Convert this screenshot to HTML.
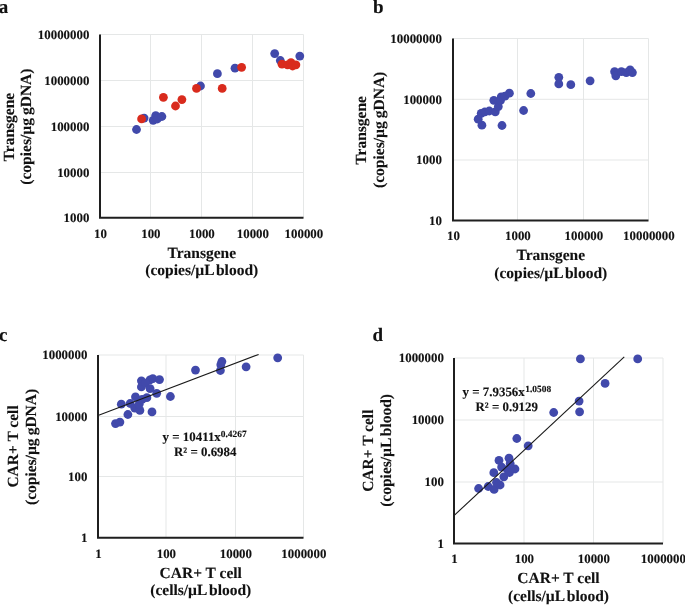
<!DOCTYPE html>
<html><head><meta charset="utf-8"><style>
html,body{margin:0;padding:0;background:#fff;width:685px;height:605px;overflow:hidden}
svg{display:block;will-change:transform;filter:blur(0.4px)}
text{font-family:"Liberation Serif", serif;font-weight:bold;fill:#111;text-rendering:geometricPrecision;stroke:#111;stroke-width:0.12px}
</style></head><body>
<svg width="685" height="605" viewBox="0 0 685 605">
<text x="-1.3" y="12.9" font-size="19" text-anchor="start" >a</text>
<line x1="150.5" y1="34.5" x2="150.5" y2="217.75" stroke="#e5e7e7" stroke-width="1"/>
<line x1="201.5" y1="34.5" x2="201.5" y2="217.75" stroke="#e5e7e7" stroke-width="1"/>
<line x1="252.5" y1="34.5" x2="252.5" y2="217.75" stroke="#e5e7e7" stroke-width="1"/>
<line x1="303.5" y1="34.5" x2="303.5" y2="217.75" stroke="#e5e7e7" stroke-width="1"/>
<line x1="100" y1="172.5" x2="303.5" y2="172.5" stroke="#e5e7e7" stroke-width="1"/>
<line x1="100" y1="126.5" x2="303.5" y2="126.5" stroke="#e5e7e7" stroke-width="1"/>
<line x1="100" y1="80.5" x2="303.5" y2="80.5" stroke="#e5e7e7" stroke-width="1"/>
<line x1="100" y1="34.5" x2="303.5" y2="34.5" stroke="#e5e7e7" stroke-width="1"/>
<text x="100.4" y="237.7" font-size="12.9" text-anchor="middle" >10</text>
<text x="150.9" y="237.7" font-size="12.9" text-anchor="middle" >100</text>
<text x="201.9" y="237.7" font-size="12.9" text-anchor="middle" >1000</text>
<text x="252.9" y="237.7" font-size="12.9" text-anchor="middle" >10000</text>
<text x="303.9" y="237.7" font-size="12.9" text-anchor="middle" >100000</text>
<text x="89.4" y="222.0102" font-size="12.9" text-anchor="end" >1000</text>
<text x="89.4" y="176.7602" font-size="12.9" text-anchor="end" >10000</text>
<text x="89.4" y="130.7602" font-size="12.9" text-anchor="end" >100000</text>
<text x="89.4" y="84.76020000000001" font-size="12.9" text-anchor="end" >1000000</text>
<text x="89.4" y="38.7602" font-size="12.9" text-anchor="end" >10000000</text>
<text x="201.75" y="257.7" font-size="15.5" text-anchor="middle" >Transgene</text>
<text x="201.75" y="275.2" font-size="15.5" text-anchor="middle" >(copies/µL<tspan dx="-1.6"> blood)</tspan></text>
<text x="0" y="0" font-size="15.5" text-anchor="middle" transform="translate(13.6,127.125) rotate(-90)">Transgene</text>
<text x="0" y="0" font-size="15.5" text-anchor="middle" transform="translate(30.6,126.625) rotate(-90)">(copies/µg<tspan dx="-0.8"> gDNA)</tspan></text>
<circle cx="136.5" cy="129.5" r="4.4" fill="#4149ab"/>
<circle cx="144.1" cy="118.1" r="4.4" fill="#4149ab"/>
<circle cx="153.2" cy="120.3" r="4.4" fill="#4149ab"/>
<circle cx="155.7" cy="115.6" r="4.4" fill="#4149ab"/>
<circle cx="157.3" cy="119" r="4.4" fill="#4149ab"/>
<circle cx="161.9" cy="116.5" r="4.4" fill="#4149ab"/>
<circle cx="200.5" cy="86" r="4.4" fill="#4149ab"/>
<circle cx="217.4" cy="73.7" r="4.4" fill="#4149ab"/>
<circle cx="235" cy="68.2" r="4.4" fill="#4149ab"/>
<circle cx="274.7" cy="53.6" r="4.4" fill="#4149ab"/>
<circle cx="280.3" cy="60.5" r="4.4" fill="#4149ab"/>
<circle cx="299.8" cy="56.1" r="4.4" fill="#4149ab"/>
<circle cx="141.6" cy="118.9" r="4.4" fill="#d92b1d"/>
<circle cx="163.4" cy="97.3" r="4.4" fill="#d92b1d"/>
<circle cx="175.5" cy="106" r="4.4" fill="#d92b1d"/>
<circle cx="181.9" cy="99.6" r="4.4" fill="#d92b1d"/>
<circle cx="196.5" cy="88.4" r="4.4" fill="#d92b1d"/>
<circle cx="222.2" cy="88.4" r="4.4" fill="#d92b1d"/>
<circle cx="241.6" cy="67.3" r="4.4" fill="#d92b1d"/>
<circle cx="282" cy="64.2" r="4.4" fill="#d92b1d"/>
<circle cx="287.5" cy="64.8" r="4.4" fill="#d92b1d"/>
<circle cx="291" cy="62.6" r="4.4" fill="#d92b1d"/>
<circle cx="292.6" cy="66" r="4.4" fill="#d92b1d"/>
<circle cx="295.9" cy="64.8" r="4.4" fill="#d92b1d"/>
<path d="M100 34.5 V217.75 H303.5" fill="none" stroke="#1f1f1f" stroke-width="2"/>
<text x="372.9" y="12.6" font-size="19" text-anchor="start" >b</text>
<line x1="517.5" y1="38.5" x2="517.5" y2="220.4" stroke="#e5e7e7" stroke-width="1"/>
<line x1="583.5" y1="38.5" x2="583.5" y2="220.4" stroke="#e5e7e7" stroke-width="1"/>
<line x1="648.5" y1="38.5" x2="648.5" y2="220.4" stroke="#e5e7e7" stroke-width="1"/>
<line x1="453" y1="160" x2="648.5" y2="160" stroke="#e5e7e7" stroke-width="1"/>
<line x1="453" y1="99.3" x2="648.5" y2="99.3" stroke="#e5e7e7" stroke-width="1"/>
<line x1="453" y1="38.5" x2="648.5" y2="38.5" stroke="#e5e7e7" stroke-width="1"/>
<text x="453.4" y="240" font-size="12.9" text-anchor="middle" >10</text>
<text x="517.9" y="240" font-size="12.9" text-anchor="middle" >1000</text>
<text x="583.9" y="240" font-size="12.9" text-anchor="middle" >100000</text>
<text x="648.9" y="240" font-size="12.9" text-anchor="middle" >10000000</text>
<text x="441.9" y="224.6602" font-size="12.9" text-anchor="end" >10</text>
<text x="441.9" y="164.2602" font-size="12.9" text-anchor="end" >1000</text>
<text x="441.9" y="103.56020000000001" font-size="12.9" text-anchor="end" >100000</text>
<text x="441.9" y="42.7602" font-size="12.9" text-anchor="end" >10000000</text>
<text x="550.75" y="259.7" font-size="15.5" text-anchor="middle" >Transgene</text>
<text x="550.75" y="277.5" font-size="15.5" text-anchor="middle" >(copies/µL<tspan dx="-1.6"> blood)</tspan></text>
<text x="0" y="0" font-size="15.5" text-anchor="middle" transform="translate(366.4,130.35) rotate(-90)">Transgene</text>
<text x="0" y="0" font-size="15.5" text-anchor="middle" transform="translate(383.5,129.85) rotate(-90)">(copies/µg<tspan dx="-0.8"> gDNA)</tspan></text>
<circle cx="502" cy="125.5" r="4.4" fill="#4149ab"/>
<circle cx="481.9" cy="125.2" r="4.4" fill="#4149ab"/>
<circle cx="478.2" cy="119.2" r="4.4" fill="#4149ab"/>
<circle cx="481.2" cy="113.3" r="4.4" fill="#4149ab"/>
<circle cx="484.9" cy="111.8" r="4.4" fill="#4149ab"/>
<circle cx="489.3" cy="111" r="4.4" fill="#4149ab"/>
<circle cx="495.3" cy="111.8" r="4.4" fill="#4149ab"/>
<circle cx="498.3" cy="106.6" r="4.4" fill="#4149ab"/>
<circle cx="493.8" cy="100.3" r="4.4" fill="#4149ab"/>
<circle cx="501.2" cy="96.9" r="4.4" fill="#4149ab"/>
<circle cx="500.5" cy="100.5" r="4.4" fill="#4149ab"/>
<circle cx="505" cy="96.2" r="4.4" fill="#4149ab"/>
<circle cx="509.4" cy="93.2" r="4.4" fill="#4149ab"/>
<circle cx="523.6" cy="110.5" r="4.4" fill="#4149ab"/>
<circle cx="530.8" cy="93.5" r="4.4" fill="#4149ab"/>
<circle cx="558.8" cy="77.3" r="4.4" fill="#4149ab"/>
<circle cx="558.8" cy="83.9" r="4.4" fill="#4149ab"/>
<circle cx="570.8" cy="84.7" r="4.4" fill="#4149ab"/>
<circle cx="590.1" cy="80.8" r="4.4" fill="#4149ab"/>
<circle cx="614.6" cy="71.7" r="4.4" fill="#4149ab"/>
<circle cx="615.8" cy="75.8" r="4.4" fill="#4149ab"/>
<circle cx="621.4" cy="71.7" r="4.4" fill="#4149ab"/>
<circle cx="626.3" cy="72.6" r="4.4" fill="#4149ab"/>
<circle cx="630.1" cy="69.9" r="4.4" fill="#4149ab"/>
<circle cx="632.4" cy="72.6" r="4.4" fill="#4149ab"/>
<path d="M453 38.5 V220.4 H648.5" fill="none" stroke="#1f1f1f" stroke-width="2"/>
<text x="-1.0" y="340.6" font-size="19" text-anchor="start" >c</text>
<line x1="166" y1="355" x2="166" y2="537.85" stroke="#e5e7e7" stroke-width="1"/>
<line x1="235.5" y1="355" x2="235.5" y2="537.85" stroke="#e5e7e7" stroke-width="1"/>
<line x1="303.5" y1="355" x2="303.5" y2="537.85" stroke="#e5e7e7" stroke-width="1"/>
<line x1="98" y1="476.5" x2="303.5" y2="476.5" stroke="#e5e7e7" stroke-width="1"/>
<line x1="98" y1="416.5" x2="303.5" y2="416.5" stroke="#e5e7e7" stroke-width="1"/>
<line x1="98" y1="355" x2="303.5" y2="355" stroke="#e5e7e7" stroke-width="1"/>
<text x="98.4" y="558" font-size="12.9" text-anchor="middle" >1</text>
<text x="166.4" y="558" font-size="12.9" text-anchor="middle" >100</text>
<text x="235.9" y="558" font-size="12.9" text-anchor="middle" >10000</text>
<text x="303.9" y="558" font-size="12.9" text-anchor="middle" >1000000</text>
<text x="87.4" y="542.1102" font-size="12.9" text-anchor="end" >1</text>
<text x="87.4" y="480.7602" font-size="12.9" text-anchor="end" >100</text>
<text x="87.4" y="420.7602" font-size="12.9" text-anchor="end" >10000</text>
<text x="87.4" y="359.2602" font-size="12.9" text-anchor="end" >1000000</text>
<text x="200.75" y="577.5" font-size="15.5" text-anchor="middle" >CAR+ T cell</text>
<text x="200.75" y="595" font-size="15.5" text-anchor="middle" >(cells/µL<tspan dx="-1.4"> blood)</tspan></text>
<text x="0" y="0" font-size="15.5" text-anchor="middle" transform="translate(18,446.425) rotate(-90)">CAR+ T cell</text>
<text x="0" y="0" font-size="15.5" text-anchor="middle" transform="translate(35.6,446.925) rotate(-90)">(copies/µg<tspan dx="-0.8"> gDNA)</tspan></text>
<circle cx="115.5" cy="423.6" r="4.4" fill="#4149ab"/>
<circle cx="119.9" cy="422.1" r="4.4" fill="#4149ab"/>
<circle cx="127.9" cy="414.5" r="4.4" fill="#4149ab"/>
<circle cx="121.3" cy="404.2" r="4.4" fill="#4149ab"/>
<circle cx="130.1" cy="403.5" r="4.4" fill="#4149ab"/>
<circle cx="135.5" cy="396.9" r="4.4" fill="#4149ab"/>
<circle cx="134.8" cy="408.2" r="4.4" fill="#4149ab"/>
<circle cx="139.9" cy="410.4" r="4.4" fill="#4149ab"/>
<circle cx="139.2" cy="404.2" r="4.4" fill="#4149ab"/>
<circle cx="142.1" cy="399.5" r="4.4" fill="#4149ab"/>
<circle cx="146.9" cy="397.7" r="4.4" fill="#4149ab"/>
<circle cx="152" cy="411.9" r="4.4" fill="#4149ab"/>
<circle cx="156.7" cy="393.3" r="4.4" fill="#4149ab"/>
<circle cx="141.4" cy="380.8" r="4.4" fill="#4149ab"/>
<circle cx="141.4" cy="386.9" r="4.4" fill="#4149ab"/>
<circle cx="150" cy="379.8" r="4.4" fill="#4149ab"/>
<circle cx="152.8" cy="378.7" r="4.4" fill="#4149ab"/>
<circle cx="159.5" cy="379.6" r="4.4" fill="#4149ab"/>
<circle cx="145.5" cy="383.2" r="4.4" fill="#4149ab"/>
<circle cx="150.1" cy="388.7" r="4.4" fill="#4149ab"/>
<circle cx="170.4" cy="396.5" r="4.4" fill="#4149ab"/>
<circle cx="195.5" cy="370.1" r="4.4" fill="#4149ab"/>
<circle cx="221.9" cy="361.5" r="4.4" fill="#4149ab"/>
<circle cx="220.8" cy="364.7" r="4.4" fill="#4149ab"/>
<circle cx="220.4" cy="370.5" r="4.4" fill="#4149ab"/>
<circle cx="246.1" cy="366.8" r="4.4" fill="#4149ab"/>
<circle cx="277.7" cy="357.8" r="4.4" fill="#4149ab"/>
<line x1="98.00" y1="415.42" x2="258.63" y2="354.43" stroke="#1a1a1a" stroke-width="1.1"/>
<path d="M98 355 V537.85 H303.5" fill="none" stroke="#1f1f1f" stroke-width="2"/>
<text x="162.6" y="441" font-size="12.9">y = 10411x<tspan font-size="9.4" dy="-4.3">0.4267</tspan></text>
<text x="174" y="455.6" font-size="12.9">R² = 0.6984</text>
<text x="372.6" y="341.3" font-size="19" text-anchor="start" >d</text>
<line x1="524" y1="358" x2="524" y2="543.4" stroke="#e5e7e7" stroke-width="1"/>
<line x1="593.5" y1="358" x2="593.5" y2="543.4" stroke="#e5e7e7" stroke-width="1"/>
<line x1="663" y1="358" x2="663" y2="543.4" stroke="#e5e7e7" stroke-width="1"/>
<line x1="454" y1="482" x2="663" y2="482" stroke="#e5e7e7" stroke-width="1"/>
<line x1="454" y1="420" x2="663" y2="420" stroke="#e5e7e7" stroke-width="1"/>
<line x1="454" y1="358" x2="663" y2="358" stroke="#e5e7e7" stroke-width="1"/>
<text x="454.4" y="563.1" font-size="12.9" text-anchor="middle" >1</text>
<text x="524.4" y="563.1" font-size="12.9" text-anchor="middle" >100</text>
<text x="593.9" y="563.1" font-size="12.9" text-anchor="middle" >10000</text>
<text x="663.4" y="563.1" font-size="12.9" text-anchor="middle" >1000000</text>
<text x="443.9" y="547.6601999999999" font-size="12.9" text-anchor="end" >1</text>
<text x="443.9" y="486.2602" font-size="12.9" text-anchor="end" >100</text>
<text x="443.9" y="424.2602" font-size="12.9" text-anchor="end" >10000</text>
<text x="443.9" y="362.2602" font-size="12.9" text-anchor="end" >1000000</text>
<text x="558.5" y="583" font-size="15.5" text-anchor="middle" >CAR+ T cell</text>
<text x="558.5" y="600.5" font-size="15.5" text-anchor="middle" >(cells/µL<tspan dx="-1.4"> blood)</tspan></text>
<text x="0" y="0" font-size="15.5" text-anchor="middle" transform="translate(373,450.7) rotate(-90)">CAR+ T cell</text>
<text x="0" y="0" font-size="15.5" text-anchor="middle" transform="translate(391.4,450.4) rotate(-90)">(copies/µL<tspan dx="-1.6"> blood)</tspan></text>
<circle cx="478.6" cy="488.5" r="4.4" fill="#4149ab"/>
<circle cx="488.2" cy="486.5" r="4.4" fill="#4149ab"/>
<circle cx="494.1" cy="489.4" r="4.4" fill="#4149ab"/>
<circle cx="500.1" cy="485" r="4.4" fill="#4149ab"/>
<circle cx="493.8" cy="472.7" r="4.4" fill="#4149ab"/>
<circle cx="503.8" cy="476.8" r="4.4" fill="#4149ab"/>
<circle cx="499" cy="460.4" r="4.4" fill="#4149ab"/>
<circle cx="509" cy="458.2" r="4.4" fill="#4149ab"/>
<circle cx="501.6" cy="467.1" r="4.4" fill="#4149ab"/>
<circle cx="507.5" cy="469.7" r="4.4" fill="#4149ab"/>
<circle cx="515" cy="469" r="4.4" fill="#4149ab"/>
<circle cx="516.8" cy="438.5" r="4.4" fill="#4149ab"/>
<circle cx="528.2" cy="445.8" r="4.4" fill="#4149ab"/>
<circle cx="553.7" cy="412.5" r="4.4" fill="#4149ab"/>
<circle cx="579.1" cy="401.1" r="4.4" fill="#4149ab"/>
<circle cx="579.6" cy="411.8" r="4.4" fill="#4149ab"/>
<circle cx="580.4" cy="358.9" r="4.4" fill="#4149ab"/>
<circle cx="605.1" cy="383.4" r="4.4" fill="#4149ab"/>
<circle cx="637.7" cy="358.9" r="4.4" fill="#4149ab"/>
<circle cx="510.2" cy="463.5" r="4.4" fill="#4149ab"/>
<circle cx="509.5" cy="472.5" r="4.4" fill="#4149ab"/>
<circle cx="496.5" cy="482.5" r="4.4" fill="#4149ab"/>
<line x1="454.00" y1="515.60" x2="624.25" y2="356.91" stroke="#1a1a1a" stroke-width="1.1"/>
<path d="M454 358 V543.4 H663" fill="none" stroke="#1f1f1f" stroke-width="2"/>
<text x="462.6" y="396" font-size="12.9">y = 7.9356x<tspan font-size="9.4" dy="-4.3" dx="0.6">1.0508</tspan></text>
<text x="475.5" y="410.6" font-size="12.9">R² = 0.9129</text>
</svg>
</body></html>
